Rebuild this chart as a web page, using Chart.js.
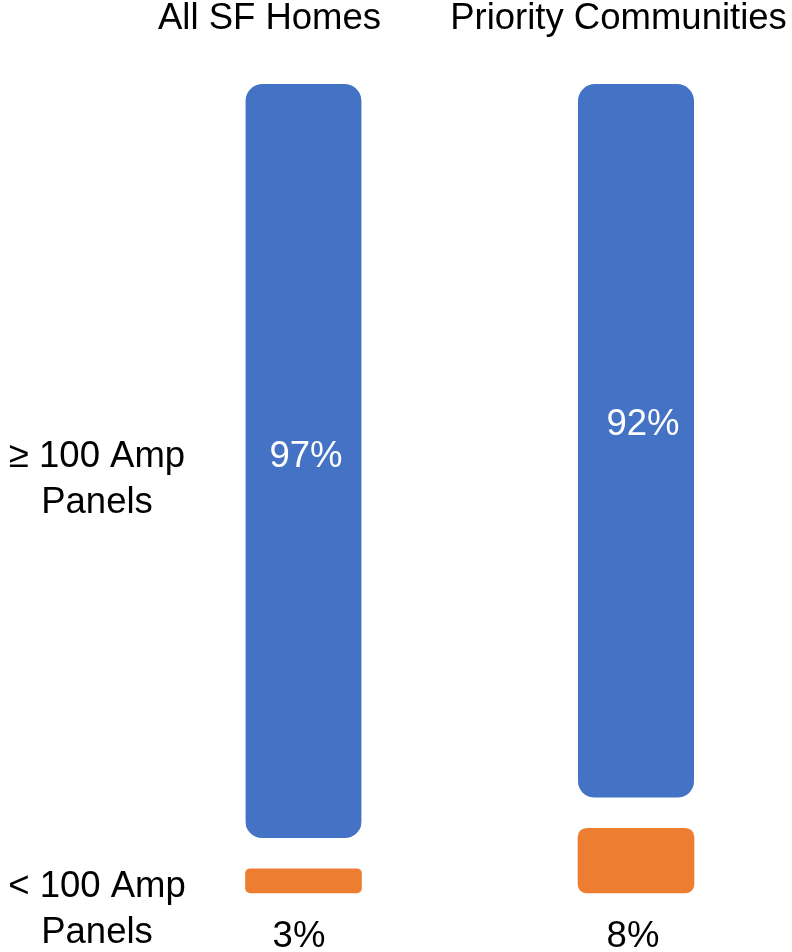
<!DOCTYPE html>
<html>
<head>
<meta charset="utf-8">
<script src="https://cdn.jsdelivr.net/npm/chart.js@4"></script>
<style>
  html, body { margin: 0; padding: 0; background: #fff; }
  canvas { display: block; }
</style>
</head>
<body>
<canvas id="chart" width="792" height="952"></canvas>
<script>
// data
const categories = ["All SF Homes", "Priority Communities"];
const under100 = [3, 8];      // < 100 Amp Panels (%)
const over100 = [97, 92];     // ≥ 100 Amp Panels (%)
const under100Lines = ["< 100 Amp", "Panels"];
const over100Lines = ["≥ 100 Amp", "Panels"];

// styles
const BLUE = "#4472C4";
const ORANGE = "#ED7D31";
const GAP = 31;
const FONT = '36.5px "Liberation Sans", Arial, sans-serif';
const titleDx = [-34, -17.5];
const insideDx = [2.5, 7];
const insideDy = [6, -6];
const belowDx = [-4.5, -3];
const orangeRadius = [5, 9];
const SIDE_X = 97;

const corners = r => ({ topLeft: r, topRight: r, bottomLeft: r, bottomRight: r });

const labelsPlugin = {
  id: "labels",
  afterDatasetsDraw(chart) {
    const ctx = chart.ctx;
    const xs = chart.scales.x;
    const orangeBars = chart.getDatasetMeta(0).data;
    const blueBars = chart.getDatasetMeta(1).data;
    ctx.save();
    ctx.font = FONT;
    ctx.textAlign = "center";
    ctx.textBaseline = "alphabetic";

    // category titles on top
    ctx.fillStyle = "#000";
    categories.forEach((c, i) => {
      ctx.fillText(c, xs.getPixelForValue(i) + titleDx[i], 29);
    });

    // values inside blue bars
    ctx.fillStyle = "#fff";
    blueBars.forEach((b, i) => {
      const mid = (b.y + b.base - GAP) / 2;
      ctx.fillText(over100[i] + "%", b.x + insideDx[i], mid + insideDy[i]);
    });

    // values under orange bars
    ctx.fillStyle = "#000";
    orangeBars.forEach((b, i) => {
      ctx.fillText(under100[i] + "%", b.x + belowDx[i], b.base + 54);
    });

    // series labels on the left
    const b0 = blueBars[0];
    const blueMid = (b0.y + b0.base - GAP) / 2;
    over100Lines.forEach((t, k) => ctx.fillText(t, SIDE_X, blueMid + 6 + k * 46));
    const o0 = orangeBars[0];
    const orangeMid = (o0.y + o0.base) / 2;
    under100Lines.forEach((t, k) => ctx.fillText(t, SIDE_X, orangeMid + 16.5 + k * 46));

    ctx.restore();
  }
};

new Chart(document.getElementById("chart"), {
  type: "bar",
  data: {
    labels: categories,
    datasets: [
      {
        label: "< 100 Amp Panels",
        data: under100,
        backgroundColor: ORANGE,
        borderWidth: 0,
        borderSkipped: false,
        borderRadius: c => corners(orangeRadius[c.dataIndex] || 5),
        barThickness: 116,
        clip: false
      },
      {
        label: "≥ 100 Amp Panels",
        data: over100,
        backgroundColor: BLUE,
        borderColor: "rgba(0,0,0,0)",
        borderWidth: { top: 0, left: 0, right: 0, bottom: GAP },
        borderSkipped: false,
        borderRadius: { topLeft: 17, topRight: 17, bottomLeft: 17 + GAP, bottomRight: 17 + GAP },
        barThickness: 116,
        clip: false
      }
    ]
  },
  options: {
    responsive: false,
    animation: false,
    devicePixelRatio: 1,
    layout: { padding: { left: 303.5, right: 156, top: 84, bottom: 59 } },
    plugins: { legend: { display: false }, tooltip: { enabled: false } },
    scales: {
      x: { type: "category", stacked: true, offset: false, display: false },
      y: { stacked: true, min: 0, max: 100, display: false }
    }
  },
  plugins: [labelsPlugin]
});
</script>
</body>
</html>
